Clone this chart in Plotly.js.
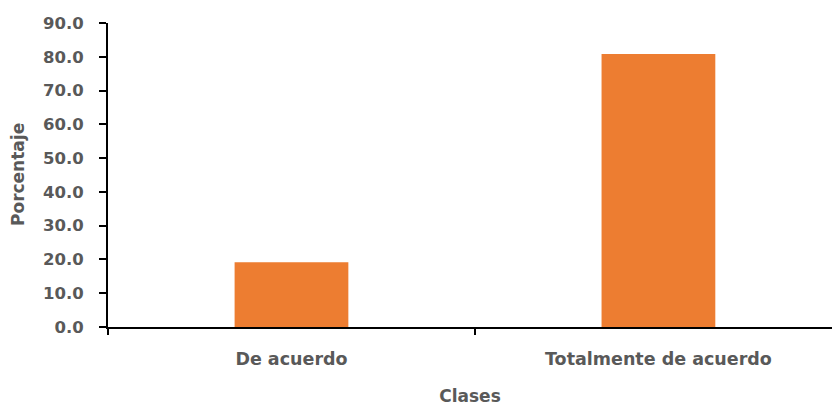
<!DOCTYPE html>
<html>
<head>
<meta charset="utf-8">
<script src="https://cdn.plot.ly/plotly-3.0.1.min.js"></script>
<style>
  html, body { margin: 0; padding: 0; background: #fff; }
  #chart { width: 832px; height: 407px; }
</style>
</head>
<body>
<div id="chart"></div>
<script>
// Survey answer classes and their share (%)
const clases = ["De acuerdo", "Totalmente de acuerdo"];
const porcentaje = [19.2, 80.8];
const yTicks = [0, 10, 20, 30, 40, 50, 60, 70, 80, 90];

const gray = "#595959";
const fontFamily = "DejaVu Sans, Liberation Sans, sans-serif";

const trace = {
  type: "bar",
  x: clases,
  y: porcentaje,
  width: 0.31,
  marker: { color: "#ED7D31", line: { width: 0 } },
  hoverinfo: "x+y"
};

const layout = {
  width: 832,
  height: 407,
  margin: { l: 108, r: 0, t: 23, b: 80 },
  paper_bgcolor: "#ffffff",
  plot_bgcolor: "#ffffff",
  showlegend: false,
  font: { family: fontFamily, color: gray, size: 17, weight: 700 },
  xaxis: {
    type: "category",
    range: [-0.5, 1.473],
    tickson: "boundaries",
    ticks: "outside",
    ticklen: 6,
    tickwidth: 2,
    tickcolor: "#000",
    showline: true,
    linecolor: "#000",
    linewidth: 2,
    showgrid: false,
    zeroline: false,
    ticklabelstandoff: 15,
    tickfont: { family: fontFamily, color: gray, size: 17.5, weight: 700 },
    title: { text: "Clases", standoff: 22, font: { family: fontFamily, color: gray, size: 17, weight: 700 } }
  },
  yaxis: {
    range: [0, 90],
    tickvals: yTicks,
    tickformat: ".1f",
    ticks: "outside",
    ticklen: 7,
    tickwidth: 2,
    tickcolor: "#000",
    showline: true,
    linecolor: "#000",
    linewidth: 2,
    showgrid: false,
    zeroline: false,
    ticklabelstandoff: 12,
    tickfont: { family: fontFamily, color: gray, size: 16.5, weight: 700 }
  },
  // y-axis title placed as a rotated annotation close to the left edge
  annotations: [{
    text: "Porcentaje",
    xref: "paper", yref: "paper",
    x: -0.1243, y: 0.5,
    xanchor: "center", yanchor: "middle",
    textangle: -90,
    showarrow: false,
    font: { family: fontFamily, color: gray, size: 17, weight: 700 }
  }]
};

Plotly.newPlot("chart", [trace], layout, { displayModeBar: false, staticPlot: true });
</script>
</body>
</html>
